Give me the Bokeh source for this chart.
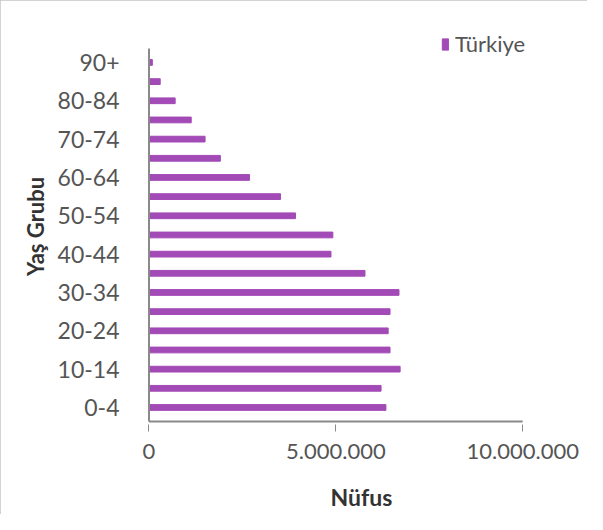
from bokeh.plotting import figure
from bokeh.models import Range1d, FixedTicker, Legend, LegendItem
from bokeh.embed import file_html
from bokeh.resources import INLINE

age_groups = ["0-4", "5-9", "10-14", "15-19", "20-24", "25-29", "30-34", "35-39",
              "40-44", "45-49", "50-54", "55-59", "60-64", "65-69", "70-74",
              "75-79", "80-84", "85-89", "90+"]
population = [6340000, 6210000, 6720000, 6450000, 6400000, 6450000, 6690000, 5780000,
              4870000, 4920000, 3920000, 3520000, 2690000, 1910000, 1500000,
              1130000, 700000, 300000, 90000]
x_ticks = [0, 5000000, 10000000]
x_tick_labels = ["0", "5.000.000", "10.000.000"]
series_name = "Türkiye"

FONT = "Lato"
GREY = "#555555"
AXIS = "#8a8a8a"

n = len(age_groups)
pos = list(range(n))
x_max = x_ticks[-1]
pad = 0.73  # category gap at both ends of the value axis

# frame extends a little beyond the axes so the legend is not clipped
p = figure(width=587, height=514, output_backend="svg", toolbar_location=None,
           y_range=Range1d(-0.887, 19.77),
           x_range=Range1d(-x_max * 0.004, x_max * 428 / 375),
           min_border_left=147, min_border_right=12, min_border_top=28,
           min_border_bottom=90)
p.styles = {"outline": "3px solid #c4c4c4", "outline-offset": "-3px"}

r = p.hbar(y=pos, right=population, height=0.3, color="#a24ab6")

# axis lines limited to the data axes
p.segment(x0=[0], y0=[-pad], x1=[0], y1=[n - 1 + pad], line_color=AXIS, line_width=2)
p.segment(x0=[0], y0=[-pad], x1=[x_max], y1=[-pad], line_color=AXIS, line_width=2)

p.xgrid.visible = False
p.ygrid.visible = False
p.outline_line_color = None
p.background_fill_color = "white"
p.border_fill_color = "white"

# y axis
ya = p.yaxis[0]
ya.ticker = FixedTicker(ticks=pos[::2])
ya.major_label_overrides = {i: age_groups[i] for i in pos[::2]}
ya.minor_tick_line_color = None
ya.major_tick_line_color = None
ya.major_tick_out = 0
ya.major_tick_in = 0
ya.axis_line_color = None
ya.major_label_text_font = FONT
ya.major_label_text_font_size = "23px"
ya.major_label_text_color = GREY
ya.major_label_standoff = 28
ya.axis_label = "Yaş Grubu"
ya.axis_label_text_font = FONT
ya.axis_label_text_font_size = "22px"
ya.axis_label_text_font_style = "bold"
ya.axis_label_text_color = "#333333"
ya.axis_label_standoff = 6

# x axis
xa = p.xaxis[0]
xa.ticker = FixedTicker(ticks=x_ticks)
xa.major_label_overrides = dict(zip(x_ticks, x_tick_labels))
xa.minor_tick_line_color = None
xa.major_tick_line_color = AXIS
xa.major_tick_line_width = 1
xa.major_tick_out = 7
xa.major_tick_in = 0
xa.axis_line_color = None
xa.major_label_text_font = FONT
xa.major_label_text_font_size = "22px"
xa.major_label_text_color = GREY
xa.major_label_standoff = 12
xa.axis_label = "Nüfus"
xa.axis_label_text_font = FONT
xa.axis_label_text_font_size = "23px"
xa.axis_label_text_font_style = "bold"
xa.axis_label_text_color = "#333333"
xa.axis_label_standoff = 21

legend = Legend(items=[LegendItem(label=series_name, renderers=[r])],
                location=(294, 367), border_line_color=None,
                background_fill_alpha=0, label_text_font=FONT,
                label_text_font_size="22px", label_text_color=GREY,
                glyph_width=8, glyph_height=14, label_standoff=6)
p.add_layout(legend, "center")

open("out.html", "w").write(file_html(p, INLINE))
